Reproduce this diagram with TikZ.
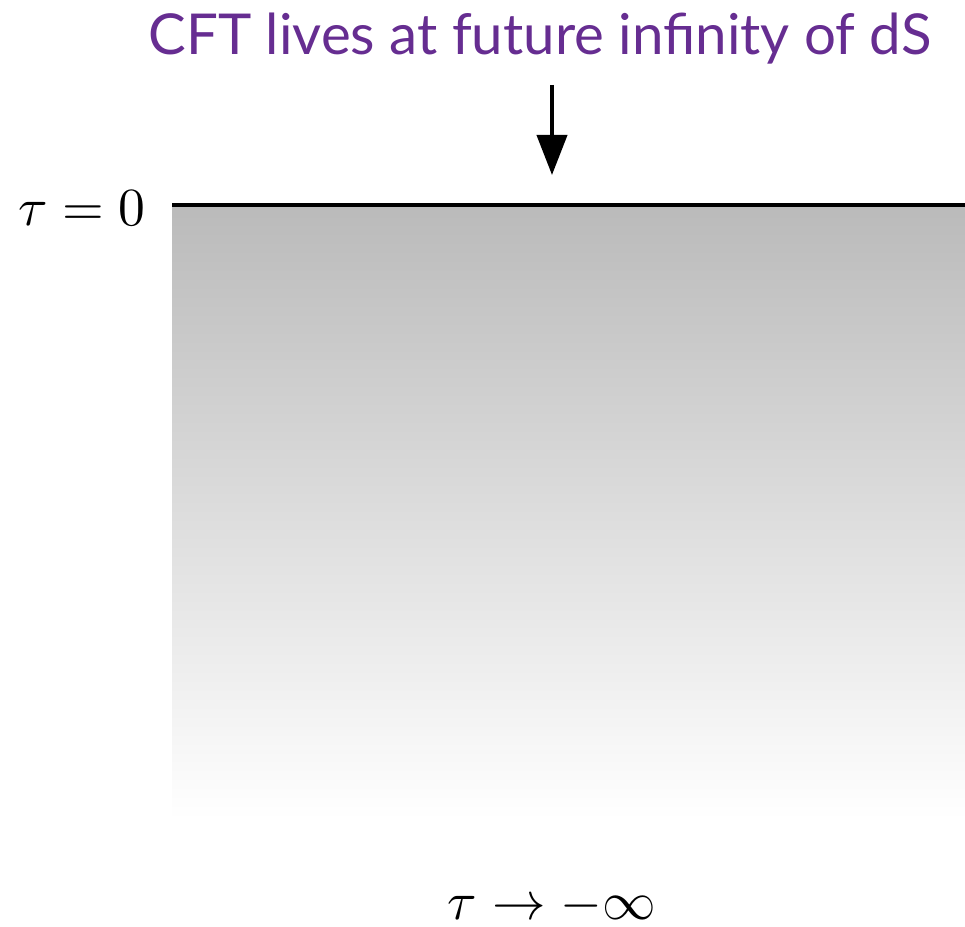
\documentclass[tikz,border=0pt]{standalone}
\usepackage{fontspec}
\usepackage{xcolor}
\usetikzlibrary{arrows.meta}
\newfontfamily\titlefont{Lato}
\definecolor{cftpurple}{RGB}{102,45,145}

\begin{document}
\begin{tikzpicture}[x=0.5pt, y=0.5pt,
        mathlabel/.style={scale=2.68, inner sep=0pt},
        titlelabel/.style={font=\titlefont\fontsize{28.2}{34}\selectfont, text=cftpurple, inner sep=0pt}]
        \useasboundingbox (0,0) rectangle (965,927);
        % shaded region below future infinity
        \shade[top color=black!27, bottom color=white] (172,107) rectangle (965,722);
        \coordinate (lineL) at (172,722);
        \coordinate (lineR) at (965,722);
        \draw[line width=2pt] (lineL) -- (lineR);

        % labels
        \node[titlelabel] (title) at (540,888) {CFT lives at future infinity of dS};
        \node[mathlabel] (tau0) at (82,719) {$\tau = 0$};
        \node[mathlabel] (taupast) at (552,21) {$\tau \rightarrow -\infty$};

        % arrow to the boundary
        \coordinate (arrtop) at (552,842);
        \coordinate (arrtip) at (552,752);
        \draw[line width=2pt, -{Triangle[length=20pt, width=15pt]}] (arrtop) -- (arrtip);
    \end{tikzpicture}
\end{document}
